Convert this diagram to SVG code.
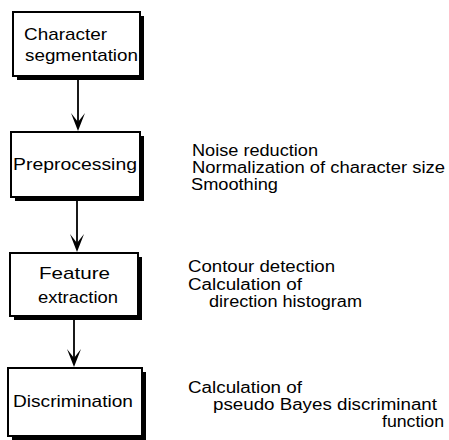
<svg xmlns="http://www.w3.org/2000/svg" width="449" height="440" viewBox="0 0 449 440">
<style>
.shadow{fill:#000}
.box{fill:#fff;stroke:#000;stroke-width:2}
.bt{font-family:"Liberation Sans",Arial,Helvetica,sans-serif;font-size:17px;fill:#000}
.nt{font-family:"Liberation Sans",Arial,Helvetica,sans-serif;font-size:16px;fill:#000}
.conn{stroke:#000;stroke-width:1.8;fill:none}
.head{fill:#000}
</style>
<rect width="449" height="440" fill="#fff"/>
<g id="connectors">
<line class="conn" x1="78" y1="80" x2="78" y2="124"/>
<path class="head" d="M78,131 L71,113 L78,122 L85,113 Z"/>
<line class="conn" x1="77" y1="201" x2="77" y2="245"/>
<path class="head" d="M77,252 L70,234 L77,243 L84,234 Z"/>
<line class="conn" x1="74" y1="320" x2="74" y2="360"/>
<path class="head" d="M74,367 L67,349 L74,358 L81,349 Z"/>
</g>
<g id="node-segmentation">
<rect class="shadow" x="17" y="16" width="127" height="64"/>
<rect class="box" x="13" y="12" width="127" height="64"/>
<text class="bt" x="24" y="40" textLength="83" lengthAdjust="spacingAndGlyphs">Character</text>
<text class="bt" x="25" y="61" textLength="113" lengthAdjust="spacingAndGlyphs">segmentation</text>
</g>
<g id="node-preprocessing">
<rect class="shadow" x="15" y="136" width="129" height="65"/>
<rect class="box" x="11" y="132" width="129" height="65"/>
<text class="bt" x="13" y="170" textLength="124" lengthAdjust="spacingAndGlyphs">Preprocessing</text>
</g>
<g id="node-feature">
<rect class="shadow" x="14" y="257" width="128" height="63"/>
<rect class="box" x="10" y="253" width="128" height="63"/>
<text class="bt" x="39" y="279" textLength="71" lengthAdjust="spacingAndGlyphs">Feature</text>
<text class="bt" x="38" y="303" textLength="80" lengthAdjust="spacingAndGlyphs">extraction</text>
</g>
<g id="node-discrimination">
<rect class="shadow" x="12" y="372" width="134" height="68"/>
<rect class="box" x="8" y="368" width="134" height="68"/>
<text class="bt" x="13" y="407" textLength="120" lengthAdjust="spacingAndGlyphs">Discrimination</text>
</g>
<g id="notes-preprocessing">
<text class="nt" x="192" y="156" textLength="126" lengthAdjust="spacingAndGlyphs">Noise reduction</text>
<text class="nt" x="192" y="173" textLength="253" lengthAdjust="spacingAndGlyphs">Normalization of character size</text>
<text class="nt" x="191" y="190" textLength="87" lengthAdjust="spacingAndGlyphs">Smoothing</text>
</g>
<g id="notes-feature">
<text class="nt" x="188" y="272" textLength="147" lengthAdjust="spacingAndGlyphs">Contour detection</text>
<text class="nt" x="188" y="290" textLength="114" lengthAdjust="spacingAndGlyphs">Calculation of</text>
<text class="nt" x="209" y="307" textLength="153" lengthAdjust="spacingAndGlyphs">direction histogram</text>
</g>
<g id="notes-discrimination">
<text class="nt" x="188" y="393" textLength="114" lengthAdjust="spacingAndGlyphs">Calculation of</text>
<text class="nt" x="213" y="410" textLength="224" lengthAdjust="spacingAndGlyphs">pseudo Bayes discriminant</text>
<text class="nt" x="382" y="427" textLength="62" lengthAdjust="spacingAndGlyphs">function</text>
</g>
</svg>
